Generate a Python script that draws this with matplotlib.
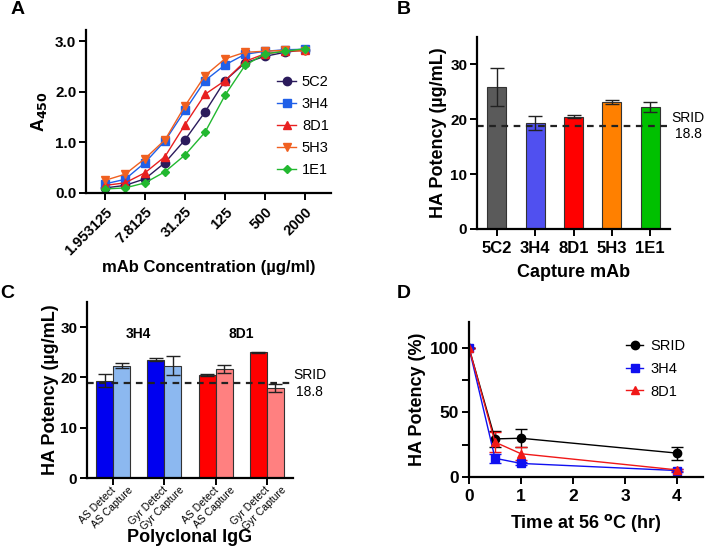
import numpy as np
import matplotlib
matplotlib.use("Agg")
from matplotlib import pyplot as plt
from matplotlib.lines import Line2D

plt.rcParams['font.family'] = ['Liberation Sans', 'DejaVu Sans']
plt.rcParams['font.weight'] = 'bold'
plt.rcParams['axes.labelweight'] = 'bold'
plt.rcParams['axes.linewidth'] = 1.6
plt.rcParams['xtick.major.width'] = 1.4
plt.rcParams['ytick.major.width'] = 1.4

# panel A - titration curves
conc = [1.953125 * 2 ** i for i in range(11)]
conc_ticks = [1.953125, 7.8125, 31.25, 125, 500, 2000]
conc_labels = ['1.953125', '7.8125', '31.25', '125', '500', '2000']
a_names = ['5C2', '3H4', '8D1', '5H3', '1E1']
a_5c2 = [0.10, 0.15, 0.28, 0.60, 1.05, 1.60, 2.22, 2.57, 2.70, 2.78, 2.83]
a_3h4 = [0.18, 0.27, 0.60, 1.03, 1.63, 2.22, 2.53, 2.74, 2.80, 2.83, 2.84]
a_8d1 = [0.15, 0.20, 0.40, 0.72, 1.35, 1.95, 2.22, 2.60, 2.75, 2.80, 2.82]
a_5h3 = [0.25, 0.37, 0.68, 1.05, 1.72, 2.32, 2.65, 2.78, 2.80, 2.82, 2.80]
a_1e1 = [0.08, 0.10, 0.20, 0.42, 0.75, 1.20, 1.93, 2.52, 2.75, 2.80, 2.85]

# panel B - capture mAb potency
b_names = ['5C2', '3H4', '8D1', '5H3', '1E1']
b_mean = [25.9, 19.3, 20.5, 23.1, 22.2]
b_err = [3.4, 1.3, 0.2, 0.4, 0.9]
srid = 18.8

# panel C - polyclonal IgG
c_labels = ['AS Detect', 'AS Capture', 'Gyr Detect', 'Gyr Capture',
            'AS Detect', 'AS Capture', 'Gyr Detect', 'Gyr Capture']
c_mean = [19.3, 22.3, 23.5, 22.3, 20.5, 21.6, 25.0, 17.9]
c_err = [1.3, 0.5, 0.3, 1.9, 0.2, 0.8, 0.1, 0.7]

# panel D - heat stability
d_time = [0, 0.5, 1, 4]
d_srid = [100, 29.5, 30.0, 18.5]
d_srid_err = [0, 6, 7, 5]
d_3h4 = [100, 14.5, 10.5, 5.0]
d_3h4_err = [0, 3.5, 1.5, 1.0]
d_8d1 = [100, 27.0, 18.0, 5.5]
d_8d1_err = [0, 8, 5, 1]

W, H = 709, 549
fig = plt.figure(figsize=(W / 100, H / 100), dpi=100)


def box(l, t, r, b):
    return [l / W, 1 - b / H, (r - l) / W, (b - t) / H]


def style(ax, size=11):
    ax.spines['top'].set_visible(False)
    ax.spines['right'].set_visible(False)
    ax.tick_params(labelsize=size, length=5)
    ax.tick_params(axis='y', pad=2)


# ---- A
ax = fig.add_axes(box(86, 30, 331, 193))
a_cols = ['#2b1b5c', '#2060e8', '#e82020', '#f06020', '#22b830']
a_marks = ['o', 's', '^', 'v', 'D']
a_sizes = [6, 6, 6, 6, 4]
for name, ys, c, m, s in zip(a_names, [a_5c2, a_3h4, a_8d1, a_5h3, a_1e1], a_cols, a_marks, a_sizes):
    ax.plot(conc, ys, color=c, marker=m, ms=s, lw=1, label=name)
ax.set_xscale('log', base=2)
ax.set_xlim(1.953125 * 2 ** (-19 / 20), 2000 * 2 ** (26 / 20))
ax.set_ylim(0, 3.22)
ax.set_xticks(conc_ticks)
ax.minorticks_off()
ax.set_yticks([0, 1, 2, 3])
ax.set_yticklabels(['0.0', '1.0', '2.0', '3.0'])
style(ax)
ax.set_xticklabels(conc_labels, rotation=45, ha='right', rotation_mode='anchor', fontsize=10.5)
ax.set_ylabel('A$_{\\mathbf{450}}$', fontsize=13, labelpad=4)
ax.set_xlabel('mAb Concentration (µg/ml)', fontsize=12, labelpad=2)
ax.legend(loc='center left', bbox_to_anchor=(0.78, 0.41), frameon=False, borderpad=0,
          borderaxespad=0, handlelength=1.3, handletextpad=0.4, labelspacing=0.55,
          prop={'weight': 'normal', 'size': 10.5})

# ---- B
ax = fig.add_axes(box(477, 37, 670, 229))
b_cols = ['#5a5a5a', '#5050f0', '#ff0000', '#ff8000', '#00c000']
xb = np.arange(len(b_names))
ax.bar(xb, b_mean, width=0.5, color=b_cols, edgecolor='#333333', lw=0.8)
ax.errorbar(xb, b_mean, yerr=b_err, fmt='none', ecolor='#222222', elinewidth=1, capsize=5, capthick=1)
ax.axhline(srid, color='#222222', ls=(0, (3, 2.5)), lw=1.6)
ax.set_xlim(-0.52, 4.52)
ax.set_ylim(0, 35)
ax.set_yticks([0, 10, 20, 30])
ax.set_xticks(xb)
style(ax)
ax.set_xticklabels(b_names, fontsize=12)
ax.set_ylabel('HA Potency (µg/mL)', fontsize=13, labelpad=2)
ax.set_xlabel('Capture mAb', fontsize=13, labelpad=6)
ax.text(5.0, srid, 'SRID\n18.8', ha='center', va='center', fontsize=10, fontweight='normal')

# ---- C
ax = fig.add_axes(box(87, 302, 293, 478))
c_cols = ['#0000f0', '#8cb8f0', '#0000f0', '#8cb8f0', '#ff0000', '#ff8080', '#ff0000', '#ff8080']
pairs = np.arange(4)
xc = np.repeat(pairs, 2) + np.tile([-0.165, 0.165], 4)
ax.bar(xc, c_mean, width=0.33, color=c_cols, edgecolor='#333333', lw=0.8)
ax.errorbar(xc, c_mean, yerr=c_err, fmt='none', ecolor='#222222', elinewidth=1, capsize=5, capthick=1)
ax.axhline(srid, color='#222222', ls=(0, (3, 2.5)), lw=1.6)
ax.set_xlim(-0.51, 3.51)
ax.set_ylim(0, 35)
ax.set_yticks([0, 10, 20, 30])
ax.set_xticks(pairs)
ax.set_xticklabels([])
ax.set_xticks(xc + 0.12, minor=True)
style(ax, 11)
ax.set_xticklabels(c_labels, minor=True, rotation=45, ha='right', rotation_mode='anchor',
                   fontsize=7.5, fontweight='normal')
ax.tick_params(axis='x', which='minor', length=0, pad=5)
ax.text(0.5, 28.7, '3H4', ha='center', va='center', fontsize=10)
ax.text(2.5, 28.7, '8D1', ha='center', va='center', fontsize=10)
ax.text(3.84, srid, 'SRID\n18.8', ha='center', va='center', fontsize=10, fontweight='normal')
ax.set_ylabel('HA Potency (µg/mL)', fontsize=13, labelpad=1)
ax.set_xlabel('Polyclonal IgG', fontsize=13)
ax.xaxis.set_label_coords(0.5, (478 - 537) / 176)
ax.xaxis.label.set_va('center')

# ---- D
ax = fig.add_axes(box(469, 322, 703, 477))
d_series = [(d_srid, d_srid_err, 'black', 'o', 'SRID'),
            (d_3h4, d_3h4_err, '#1010f0', 's', '3H4'),
            (d_8d1, d_8d1_err, '#f01818', '^', '8D1')]
handles = []
for ys, es, c, m, name in d_series:
    ax.errorbar(d_time, ys, yerr=es, color=c, marker=m, ms=6, lw=1,
                elinewidth=1, capsize=4)
    handles.append(Line2D([], [], color=c, marker=m, ms=6, lw=1, label=name))
ax.set_xlim(0, 4.5)
ax.set_ylim(0, 120)
ax.set_xticks([0, 1, 2, 3, 4])
ax.set_yticks([0, 50, 100])
ax.set_yticks([25, 75], minor=True)
ax.tick_params(axis='y', which='minor', length=5, width=1.4)
style(ax, 12.5)
ax.set_ylabel('HA Potency (%)', fontsize=13, labelpad=3)
ax.set_xlabel('Time at 56 $^{\\mathbf{o}}$C (hr)', fontsize=13, labelpad=6)
ax.legend(handles=handles, loc='upper left', bbox_to_anchor=(0.67, 0.89), frameon=False,
          borderpad=0, borderaxespad=0, handlelength=1.2, handletextpad=0.5,
          labelspacing=0.6, prop={'weight': 'normal', 'size': 10.5})

for lbl, x, y in [('A', 11, 9), ('B', 397, 10), ('C', 0, 293), ('D', 397, 293)]:
    fig.text(x / W, 1 - y / H, lbl, ha='left', va='center', fontsize=14, fontweight='bold')

fig.savefig('out.png', dpi=100)
